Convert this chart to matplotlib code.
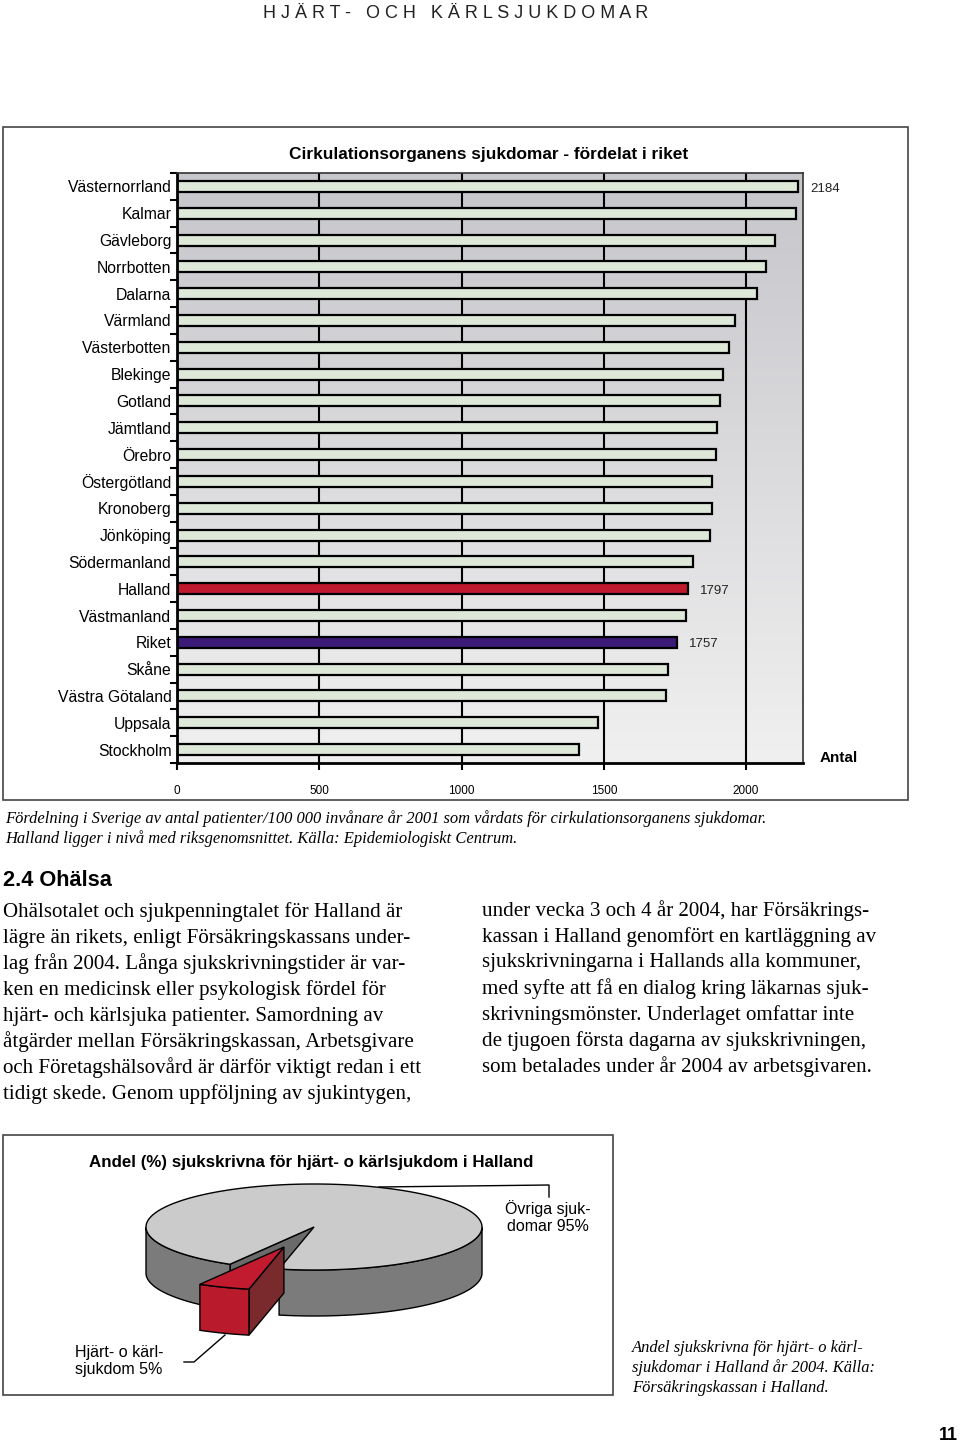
import numpy as np
import matplotlib

matplotlib.use("Agg")
import matplotlib.pyplot as plt
from matplotlib.colors import LinearSegmentedColormap
from matplotlib.patches import Polygon, Rectangle

plt.rcParams["font.family"] = ["Liberation Sans", "DejaVu Sans"]
SERIF = ["Liberation Serif", "DejaVu Serif"]

# --- data -------------------------------------------------------------
regions = [
    "Västernorrland", "Kalmar", "Gävleborg", "Norrbotten", "Dalarna",
    "Värmland", "Västerbotten", "Blekinge", "Gotland", "Jämtland",
    "Örebro", "Östergötland", "Kronoberg", "Jönköping", "Södermanland",
    "Halland", "Västmanland", "Riket", "Skåne", "Västra Götaland",
    "Uppsala", "Stockholm",
]
patients = [
    2184, 2177, 2101, 2071, 2039,
    1961, 1941, 1918, 1909, 1899,
    1894, 1879, 1879, 1874, 1815,
    1797, 1789, 1757, 1725, 1719,
    1478, 1413,
]
labelled_regions = ["Västernorrland", "Halland", "Riket"]
x_ticks = [0, 500, 1000, 1500, 2000]

pie_labels = ["Hjärt- o kärl-\nsjukdom", "Övriga sjuk-\ndomar"]
pie_shares = [5, 95]

left_column = [
    "Ohälsotalet och sjukpenningtalet för Halland är",
    "lägre än rikets, enligt Försäkringskassans under-",
    "lag från 2004. Långa sjukskrivningstider är var-",
    "ken en medicinsk eller psykologisk fördel för",
    "hjärt- och kärlsjuka patienter. Samordning av",
    "åtgärder mellan Försäkringskassan, Arbetsgivare",
    "och Företagshälsovård är därför viktigt redan i ett",
    "tidigt skede. Genom uppföljning av sjukintygen,",
]
right_column = [
    "under vecka 3 och 4 år 2004, har Försäkrings-",
    "kassan i Halland genomfört en kartläggning av",
    "sjukskrivningarna i Hallands alla kommuner,",
    "med syfte att få en dialog kring läkarnas sjuk-",
    "skrivningsmönster. Underlaget omfattar inte",
    "de tjugoen första dagarna av sjukskrivningen,",
    "som betalades under år 2004 av arbetsgivaren.",
]

BAR_COLORS = {"Halland": "#c0182c", "Riket": "#3b1a78"}
DEFAULT_BAR = "#dde8d8"

W, H = 960, 1445
fig = plt.figure(figsize=(W / 100, H / 100), dpi=100)

# page layer in pixel coordinates
page = fig.add_axes([0, 0, 1, 1])
page.set_xlim(0, W)
page.set_ylim(H, 0)
page.axis("off")

page.text(456, 13, "H J Ä R T -   O C H   K Ä R L S J U K D O M A R",
          ha="center", va="center", fontsize=13, color="#222222")

page.add_patch(Rectangle((3, 127), 905, 673, fill=False, ec="#444444", lw=1.2))
page.add_patch(Rectangle((3, 1135), 610, 260, fill=False, ec="#444444", lw=1.2))

page.text(489, 155, "Cirkulationsorganens sjukdomar - fördelat i riket",
          ha="center", va="center", fontsize=12.4, fontweight="bold")
page.text(839, 758, "Antal", ha="center", va="center", fontsize=11, fontweight="bold")

page.text(5, 819, "Fördelning i Sverige av antal patienter/100 000 invånare år 2001 "
          "som vårdats för cirkulationsorganens sjukdomar.",
          ha="left", va="center", fontsize=11.9, style="italic", family=SERIF)
page.text(5, 839, "Halland ligger i nivå med riksgenomsnittet. Källa: Epidemiologiskt Centrum.",
          ha="left", va="center", fontsize=11.9, style="italic", family=SERIF)

page.text(3, 880, "2.4 Ohälsa", ha="left", va="center", fontsize=15.7, fontweight="bold")
for i, line in enumerate(left_column):
    page.text(3, 912 + 26 * i, line, ha="left", va="center", fontsize=15.1, family=SERIF)
for i, line in enumerate(right_column):
    page.text(482, 911 + 26 * i, line, ha="left", va="center", fontsize=15.1, family=SERIF)

page.text(311, 1163, "Andel (%) sjukskrivna för hjärt- o kärlsjukdom i Halland",
          ha="center", va="center", fontsize=12.15, fontweight="bold")

caption = ["Andel sjukskrivna för hjärt- o kärl-",
           "sjukdomar i Halland år 2004. Källa:",
           "Försäkringskassan i Halland."]
for i, line in enumerate(caption):
    page.text(632, 1348 + 20 * i, line, ha="left", va="center", fontsize=11.9,
              style="italic", family=SERIF)

page.text(958, 1435, "11", ha="right", va="center", fontsize=13, fontweight="bold")

# --- 3D pie ----------------------------------------------------------------
cx, cy, rx, ry, depth = 314, 1227, 168, 43, 46
start = 240.0
explode = {0: 0.5}
pie_colors = [
    {"top": "#c21b2f", "side": "#b91a2c", "cut": "#7a2a2c"},
    {"top": "#cbcbcb", "side": "#7b7b7b", "cut": "#6a6a6a"},
]


def rim(theta_deg, ox, oy, z=0.0):
    t = np.radians(theta_deg)
    return (ox + rx * np.cos(t), oy - ry * np.sin(t) + z)


def arc(a0, a1, ox, oy, z=0.0):
    n = max(int(abs(a1 - a0)), 2)
    return [rim(a, ox, oy, z) for a in np.linspace(a0, a1, n)]


def front_segments(a0, a1):
    # parts of [a0, a1] whose outer wall faces the viewer (sin < 0)
    segs = []
    for k in range(-1, 3):
        lo, hi = 180 + 360 * k, 360 + 360 * k
        s, e = max(a0, lo), min(a1, hi)
        if e > s:
            segs.append((s, e))
    return segs


angles = [start]
for share in pie_shares:
    angles.append(angles[-1] + 360.0 * share / sum(pie_shares))

# draw the rear (unexploded) slice first, exploded slice on top
for idx in sorted(range(len(pie_shares)), key=lambda i: i in explode):
    a0, a1 = angles[idx], angles[idx + 1]
    mid = np.radians((a0 + a1) / 2)
    e = explode.get(idx, 0.0)
    ox = cx + rx * np.cos(mid) * e
    oy = cy - ry * np.sin(mid) * e
    col = pie_colors[idx]
    # visible cut faces
    for edge, normal in ((a0, a0 - 90), (a1, a1 + 90)):
        if np.sin(np.radians(normal)) < 0:
            pts = [(ox, oy), rim(edge, ox, oy), rim(edge, ox, oy, depth), (ox, oy + depth)]
            page.add_patch(Polygon(pts, closed=True, fc=col["cut"], ec="black", lw=1, zorder=3))
    for s, t in front_segments(a0, a1):
        pts = arc(s, t, ox, oy) + arc(t, s, ox, oy, depth)
        page.add_patch(Polygon(pts, closed=True, fc=col["side"], ec="black", lw=1, zorder=3))
    pts = [(ox, oy)] + arc(a0, a1, ox, oy)
    page.add_patch(Polygon(pts, closed=True, fc=col["top"], ec="black", lw=1, zorder=3))

page.plot([379, 549, 549], [1187, 1185, 1197], color="black", lw=1, zorder=4)
page.plot([225, 194, 184], [1335, 1362, 1362], color="black", lw=1, zorder=4)
page.text(548, 1217, f"{pie_labels[1]} {pie_shares[1]}%", ha="center", va="center",
          fontsize=11.5, linespacing=1.15)
page.text(119, 1361, f"{pie_labels[0]} {pie_shares[0]}%", ha="center", va="center",
          fontsize=11.5, linespacing=1.15)

# --- bar chart ----------------------------------------------------------
ax = fig.add_axes([177 / W, 1 - 763 / H, 626 / W, 590 / H])
y = np.arange(len(regions))
xmax = 2200

grad = LinearSegmentedColormap.from_list("bg", ["#c6c6cb", "#f0f0f0"])
ax.imshow(np.linspace(0, 1, 256).reshape(-1, 1), cmap=grad, aspect="auto",
          extent=(0, xmax, len(regions) - 0.5, -0.5), origin="upper", zorder=0)

colors = [BAR_COLORS.get(r, DEFAULT_BAR) for r in regions]
ax.barh(y, patients, height=0.41, color=colors, edgecolor="black", linewidth=1.6, zorder=2)

for region, value, yy in zip(regions, patients, y):
    if region in labelled_regions:
        ax.text(value + 42, yy + 0.08, str(value), ha="left", va="center", fontsize=9.5,
                color="#222222", clip_on=False)

ax.set_xlim(0, xmax)
ax.set_ylim(len(regions) - 0.5, -0.5)
ax.set_xticks(x_ticks)
ax.set_xticklabels([str(t) for t in x_ticks])
ax.set_yticks(y)
ax.set_yticklabels(regions)
ax.set_yticks(np.arange(-0.5, len(regions), 1), minor=True)
ax.tick_params(axis="x", direction="out", length=5, width=1.5, pad=11, labelsize=8.5)
ax.tick_params(axis="y", which="major", length=0, pad=4, labelsize=11.3)
ax.tick_params(axis="y", which="minor", direction="out", length=5, width=1.5)
ax.grid(axis="x", color="black", linewidth=1.5, zorder=1)
ax.set_axisbelow(True)
for side in ("left", "bottom"):
    ax.spines[side].set_linewidth(2)
for side in ("top", "right"):
    ax.spines[side].set_linewidth(1.2)
    ax.spines[side].set_color("#333333")

fig.savefig("out.png", dpi=100)
